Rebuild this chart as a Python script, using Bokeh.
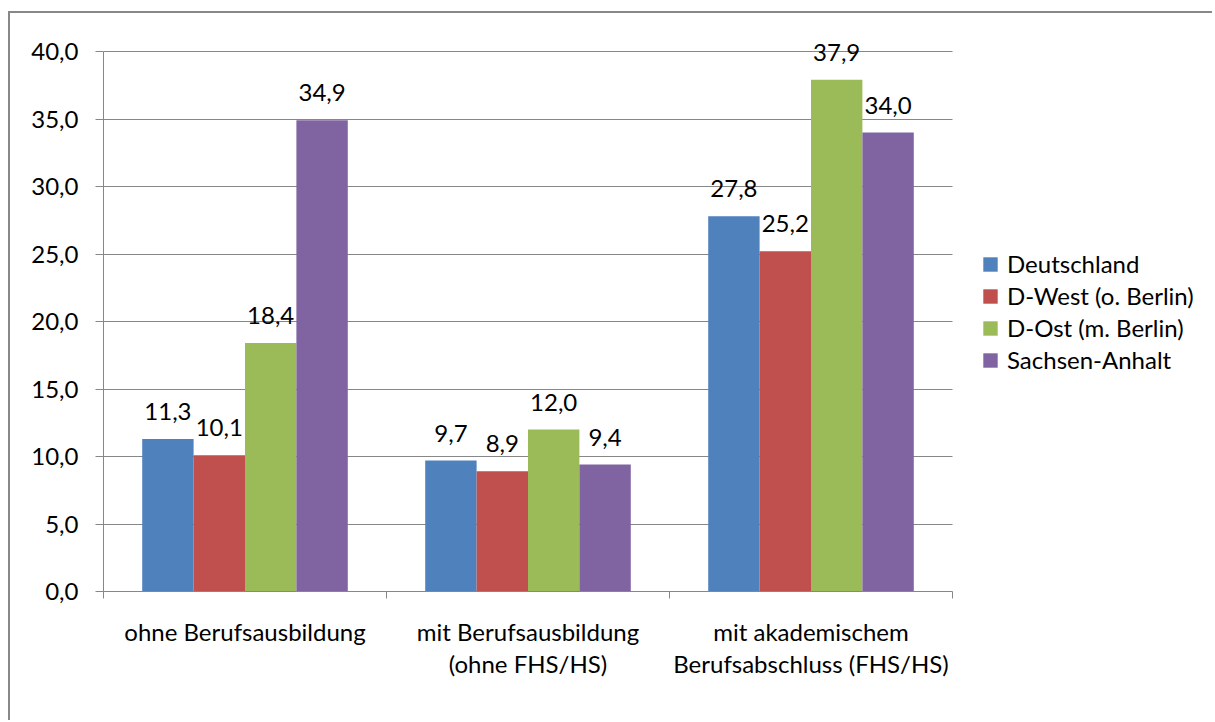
from bokeh.plotting import figure
from bokeh.models import Range1d, FixedTicker, LabelSet, ColumnDataSource, Legend, LegendItem
from bokeh.core.properties import value
from bokeh.embed import file_html
from bokeh.resources import INLINE

# ---- data ----
categories = ["ohne Berufsausbildung",
              "mit Berufsausbildung\n(ohne FHS/HS)",
              "mit akademischem\nBerufsabschluss (FHS/HS)"]
series_names = ["Deutschland", "D-West (o. Berlin)", "D-Ost (m. Berlin)", "Sachsen-Anhalt"]
deutschland = [11.3, 9.7, 27.8]
d_west = [10.1, 8.9, 25.2]
d_ost = [18.4, 12.0, 37.9]
sachsen_anhalt = [34.9, 9.4, 34.0]
series_values = [deutschland, d_west, d_ost, sachsen_anhalt]
colors = ["#4F81BD", "#C0504D", "#9BBB59", "#8064A2"]
y_ticks = [0, 5, 10, 15, 20, 25, 30, 35, 40]

FONT = "Lato"
FS = "24px"
GRAY = "#878787"

W, H = 1212, 720
LEFT, TOP, BOTTOM = 103, 33, 129
# plot area: 849 px for 3 categories, 540 px for 0..40; the frame is larger so
# that labels above the top and the legend on the right are not clipped
X_END = 3 * (W - LEFT) / 849
Y_TOP = 40 * (H - TOP - BOTTOM) / 540

p = figure(width=W, height=H,
           x_range=Range1d(0, X_END), y_range=Range1d(0, Y_TOP),
           output_backend="svg", toolbar_location=None,
           min_border_left=LEFT, min_border_right=0,
           min_border_top=TOP, min_border_bottom=BOTTOM)
p.border_fill_color = None
p.outline_line_color = None
p.background_fill_color = None
p.styles = {
    "background-image": "linear-gradient(#888888,#888888), linear-gradient(#888888,#888888)",
    "background-size": "100% 2px, 2px 100%",
    "background-position": "8px 11px, 8px 11px",
    "background-repeat": "no-repeat",
}

# grid
p.xgrid.visible = False
p.ygrid.grid_line_color = GRAY
p.ygrid.grid_line_width = 1
p.ygrid.ticker = FixedTicker(ticks=y_ticks)
p.ygrid.cross_bounds = (0, 3)

# y axis
p.yaxis.ticker = FixedTicker(ticks=y_ticks)
p.yaxis.bounds = (0, 40)
p.yaxis.major_label_overrides = {t: f"{t:.1f}".replace(".", ",") for t in y_ticks}
p.yaxis.axis_line_color = GRAY
p.yaxis.major_tick_line_color = GRAY
p.yaxis.major_tick_out = 8
p.yaxis.major_tick_in = 0
p.yaxis.minor_tick_line_color = None
p.yaxis.major_label_standoff = 17
p.yaxis.major_label_text_font = FONT
p.yaxis.major_label_text_font_size = FS
p.yaxis.major_label_text_color = "black"

# x axis: labels at category centres, ticks at boundaries
centres = [i + 0.5 for i in range(len(categories))]
p.xaxis.ticker = FixedTicker(ticks=centres, minor_ticks=list(range(len(categories) + 1)))
p.xaxis.bounds = (0, 3)
p.xaxis.major_label_overrides = {c: lab for c, lab in zip(centres, categories)}
p.xaxis.axis_line_color = GRAY
p.xaxis.major_tick_line_color = None
p.xaxis.major_tick_out = 0
p.xaxis.major_tick_in = 0
p.xaxis.minor_tick_line_color = GRAY
p.xaxis.minor_tick_out = 7
p.xaxis.minor_tick_in = 0
p.xaxis.major_label_standoff = 18
p.xaxis.major_label_text_font = FONT
p.xaxis.major_label_text_font_size = FS
p.xaxis.major_label_text_color = "black"
p.xaxis.major_label_text_line_height = 1.13

# bars
bw = 0.1816
items = []
for i, (name, vals, col) in enumerate(zip(series_names, series_values, colors)):
    xs = [c + (i - 1.5) * bw for c in centres]
    src = ColumnDataSource(dict(x=xs, top=vals,
                                label=[f"{v:.1f}".replace(".", ",") for v in vals]))
    r = p.vbar(x="x", top="top", width=bw, source=src, fill_color=col, line_color=None)
    items.append(LegendItem(label=name, renderers=[r]))
    p.add_layout(LabelSet(x="x", y="top", text="label", source=src,
                          text_align="center", text_baseline="alphabetic",
                          y_offset=19, text_font=value(FONT), text_font_size=FS,
                          text_color="black"))

legend = Legend(items=items, location=(878, 217), orientation="vertical")
legend.border_line_color = None
legend.background_fill_color = None
legend.padding = 0
legend.margin = 0
legend.spacing = 3
legend.glyph_width = 18
legend.glyph_height = 18
legend.label_height = 24
legend.label_standoff = 8
legend.label_text_font = FONT
legend.label_text_font_size = FS
legend.label_text_color = "black"
legend.label_text_baseline = "middle"
p.add_layout(legend)

open("out.html", "w").write(file_html(p, INLINE))
